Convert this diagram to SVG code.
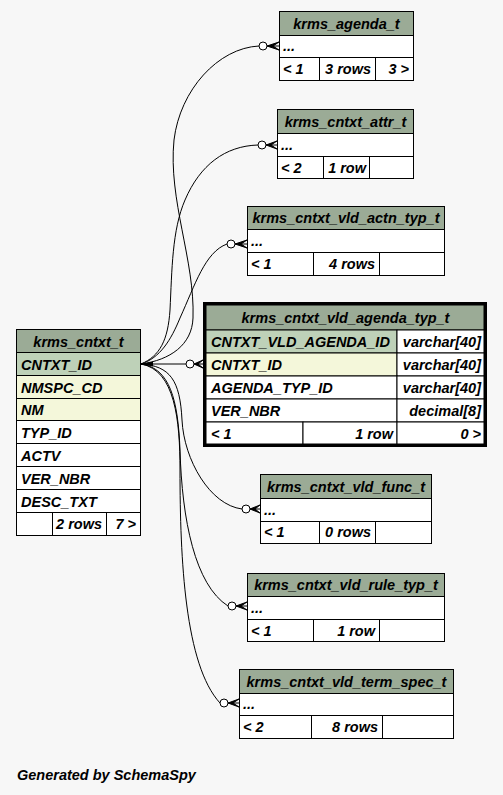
<svg xmlns="http://www.w3.org/2000/svg" width="503" height="795" viewBox="0 0 503 795">
<style>
text{font-family:"Liberation Sans",Arial,Helvetica,sans-serif;font-weight:bold;font-style:italic;font-size:14.5px;fill:#000}
.m{text-anchor:middle}
.e{text-anchor:end}
rect{stroke:#000;stroke-width:1}
.hd{fill:#9bab96}
.pk{fill:#bed1b8}
.ix{fill:#f4f7da}
.w{fill:#fff}
.frame{fill:none;stroke-width:3}
.ln{fill:none;stroke:#000;stroke-width:1}
.c{fill:#fff;stroke:#000;stroke-width:1}
.cr{fill:#000;stroke:#000;stroke-width:1;stroke-linejoin:round}
</style>
<rect x="0" y="0" width="503" height="795" style="fill:#f7f7f7;stroke:none"/>

<g id="connectors">
<path class="ln" d="M141,364 C170,360 192,345 193,318 C195,260 168,200 174,140 C180,90 218,48 259,46"/>
<path class="ln" d="M141,364 C160,356 168,340 170,310 C172,270 172,230 185,200 C200,165 225,146 258,145"/>
<path class="ln" d="M141,364 C160,358 171,340 180,318 C195,285 205,252 227,244"/>
<path class="ln" d="M141,364 L186,364"/>
<path class="ln" d="M141,364 C170,366 180,380 182,420 C184,460 210,505 242,509"/>
<path class="ln" d="M141,364 C170,368 178,400 180,450 C182,520 195,585 228,606"/>
<path class="ln" d="M141,364 C175,370 180,420 180,470 C180,560 185,665 220,703"/>
<polygon points="141,364 153,361.5 153,366.5" fill="#000"/>
<circle class="c" cx="263" cy="46" r="4"/>
<path class="cr" d="M267,46 L279,42 L273,46 L279,50 Z M267,46 L279,46"/>
<circle class="c" cx="262" cy="145" r="4"/>
<path class="cr" d="M266,145 L277,141 L271,145 L277,149 Z M266,145 L277,145"/>
<circle class="c" cx="231" cy="244" r="4"/>
<path class="cr" d="M235,244 L247,240 L241,244 L247,248 Z M235,244 L247,244"/>
<circle class="c" cx="190" cy="364" r="4"/>
<path class="cr" d="M194,364 L203,360 L198,364 L203,368 Z M194,364 L203,364"/>
<circle class="c" cx="246" cy="509" r="4"/>
<path class="cr" d="M250,509 L260,505 L255,509 L260,513 Z M250,509 L260,509"/>
<circle class="c" cx="232" cy="606" r="4"/>
<path class="cr" d="M236,606 L247,602 L241,606 L247,610 Z M236,606 L247,606"/>
<circle class="c" cx="224" cy="703" r="4"/>
<path class="cr" d="M228,703 L239,699 L233,703 L239,707 Z M228,703 L239,703"/>
</g>

<g id="krms_agenda_t">
<rect class="hd" x="279.5" y="11.5" width="134" height="24"/>
<rect class="w" x="279.5" y="35.5" width="134" height="22"/>
<rect class="w" x="279.5" y="57.5" width="40" height="23"/>
<rect class="w" x="319.5" y="57.5" width="56" height="23"/>
<rect class="w" x="375.5" y="57.5" width="38" height="23"/>
<text class="m" x="346.5" y="28.5">krms_agenda_t</text>
<text x="283" y="51">...</text>
<text x="283" y="74">&lt; 1</text>
<text class="e" x="371" y="74">3 rows</text>
<text class="e" x="409" y="74">3 &gt;</text>
</g>

<g id="krms_cntxt_attr_t">
<rect class="hd" x="277.5" y="109.5" width="136" height="24"/>
<rect class="w" x="277.5" y="133.5" width="136" height="23"/>
<rect class="w" x="277.5" y="156.5" width="46" height="22"/>
<rect class="w" x="323.5" y="156.5" width="46" height="22"/>
<rect class="w" x="369.5" y="156.5" width="44" height="22"/>
<text class="m" x="345.5" y="126.5">krms_cntxt_attr_t</text>
<text x="281" y="149.5">...</text>
<text x="281" y="172.5">&lt; 2</text>
<text class="e" x="366" y="172.5">1 row</text>
</g>

<g id="krms_cntxt_vld_actn_typ_t">
<rect class="hd" x="247.5" y="206.5" width="197" height="23"/>
<rect class="w" x="247.5" y="229.5" width="197" height="23"/>
<rect class="w" x="247.5" y="252.5" width="66" height="23"/>
<rect class="w" x="313.5" y="252.5" width="66" height="23"/>
<rect class="w" x="379.5" y="252.5" width="65" height="23"/>
<text class="m" x="346" y="223">krms_cntxt_vld_actn_typ_t</text>
<text x="251" y="246">...</text>
<text x="251" y="269">&lt; 1</text>
<text class="e" x="375" y="269">4 rows</text>
</g>

<g id="krms_cntxt_vld_agenda_typ_t">
<rect class="hd" x="206" y="305" width="278" height="25"/>
<rect class="pk" x="206" y="330" width="191" height="23"/>
<rect class="w" x="397" y="330" width="87" height="23"/>
<rect class="ix" x="206" y="353" width="191" height="23"/>
<rect class="w" x="397" y="353" width="87" height="23"/>
<rect class="w" x="206" y="376" width="191" height="23"/>
<rect class="w" x="397" y="376" width="87" height="23"/>
<rect class="w" x="206" y="399" width="191" height="23"/>
<rect class="w" x="397" y="399" width="87" height="23"/>
<rect class="w" x="206" y="422" width="97" height="22"/>
<rect class="w" x="303" y="422" width="94" height="22"/>
<rect class="w" x="397" y="422" width="87" height="22"/>
<rect class="frame" x="204.5" y="303.5" width="281" height="142"/>
<text class="m" x="345.5" y="323">krms_cntxt_vld_agenda_typ_t</text>
<text x="211" y="347">CNTXT_VLD_AGENDA_ID</text>
<text class="e" x="481" y="347">varchar[40]</text>
<text x="211" y="370">CNTXT_ID</text>
<text class="e" x="481" y="370">varchar[40]</text>
<text x="211" y="393">AGENDA_TYP_ID</text>
<text class="e" x="481" y="393">varchar[40]</text>
<text x="211" y="416">VER_NBR</text>
<text class="e" x="481" y="416">decimal[8]</text>
<text x="211" y="438.5">&lt; 1</text>
<text class="e" x="393" y="438.5">1 row</text>
<text class="e" x="481" y="438.5">0 &gt;</text>
</g>

<g id="krms_cntxt_t">
<rect class="hd" x="16.5" y="329.5" width="124" height="23"/>
<rect class="pk" x="16.5" y="352.5" width="124" height="23"/>
<rect class="ix" x="16.5" y="375.5" width="124" height="23"/>
<rect class="ix" x="16.5" y="398.5" width="124" height="22"/>
<rect class="w" x="16.5" y="420.5" width="124" height="23"/>
<rect class="w" x="16.5" y="443.5" width="124" height="23"/>
<rect class="w" x="16.5" y="466.5" width="124" height="23"/>
<rect class="w" x="16.5" y="489.5" width="124" height="23"/>
<rect class="w" x="16.5" y="512.5" width="36" height="23"/>
<rect class="w" x="52.5" y="512.5" width="54" height="23"/>
<rect class="w" x="106.5" y="512.5" width="34" height="23"/>
<text class="m" x="78.5" y="346.5">krms_cntxt_t</text>
<text x="21" y="369.5">CNTXT_ID</text>
<text x="21" y="392.5">NMSPC_CD</text>
<text x="21" y="415">NM</text>
<text x="21" y="437.5">TYP_ID</text>
<text x="21" y="460.5">ACTV</text>
<text x="21" y="483.5">VER_NBR</text>
<text x="21" y="506.5">DESC_TXT</text>
<text class="e" x="102" y="529">2 rows</text>
<text class="e" x="136" y="529">7 &gt;</text>
</g>

<g id="krms_cntxt_vld_func_t">
<rect class="hd" x="260.5" y="474.5" width="171" height="24"/>
<rect class="w" x="260.5" y="498.5" width="171" height="23"/>
<rect class="w" x="260.5" y="521.5" width="59" height="22"/>
<rect class="w" x="319.5" y="521.5" width="56" height="22"/>
<rect class="w" x="375.5" y="521.5" width="56" height="22"/>
<text class="m" x="346" y="491.5">krms_cntxt_vld_func_t</text>
<text x="264" y="514.5">...</text>
<text x="264" y="537">&lt; 1</text>
<text class="e" x="371" y="537">0 rows</text>
</g>

<g id="krms_cntxt_vld_rule_typ_t">
<rect class="hd" x="247.5" y="573.5" width="197" height="23"/>
<rect class="w" x="247.5" y="596.5" width="197" height="23"/>
<rect class="w" x="247.5" y="619.5" width="66" height="22"/>
<rect class="w" x="313.5" y="619.5" width="66" height="22"/>
<rect class="w" x="379.5" y="619.5" width="65" height="22"/>
<text class="m" x="346" y="590">krms_cntxt_vld_rule_typ_t</text>
<text x="251" y="613">...</text>
<text x="251" y="635.5">&lt; 1</text>
<text class="e" x="375" y="635.5">1 row</text>
</g>

<g id="krms_cntxt_vld_term_spec_t">
<rect class="hd" x="239.5" y="669.5" width="214" height="24"/>
<rect class="w" x="239.5" y="693.5" width="214" height="22"/>
<rect class="w" x="239.5" y="715.5" width="72" height="23"/>
<rect class="w" x="311.5" y="715.5" width="71" height="23"/>
<rect class="w" x="382.5" y="715.5" width="71" height="23"/>
<text class="m" x="346.5" y="686.5">krms_cntxt_vld_term_spec_t</text>
<text x="243" y="709">...</text>
<text x="243" y="732">&lt; 2</text>
<text class="e" x="378" y="732">8 rows</text>
</g>

<text x="17" y="780">Generated by SchemaSpy</text>
</svg>
